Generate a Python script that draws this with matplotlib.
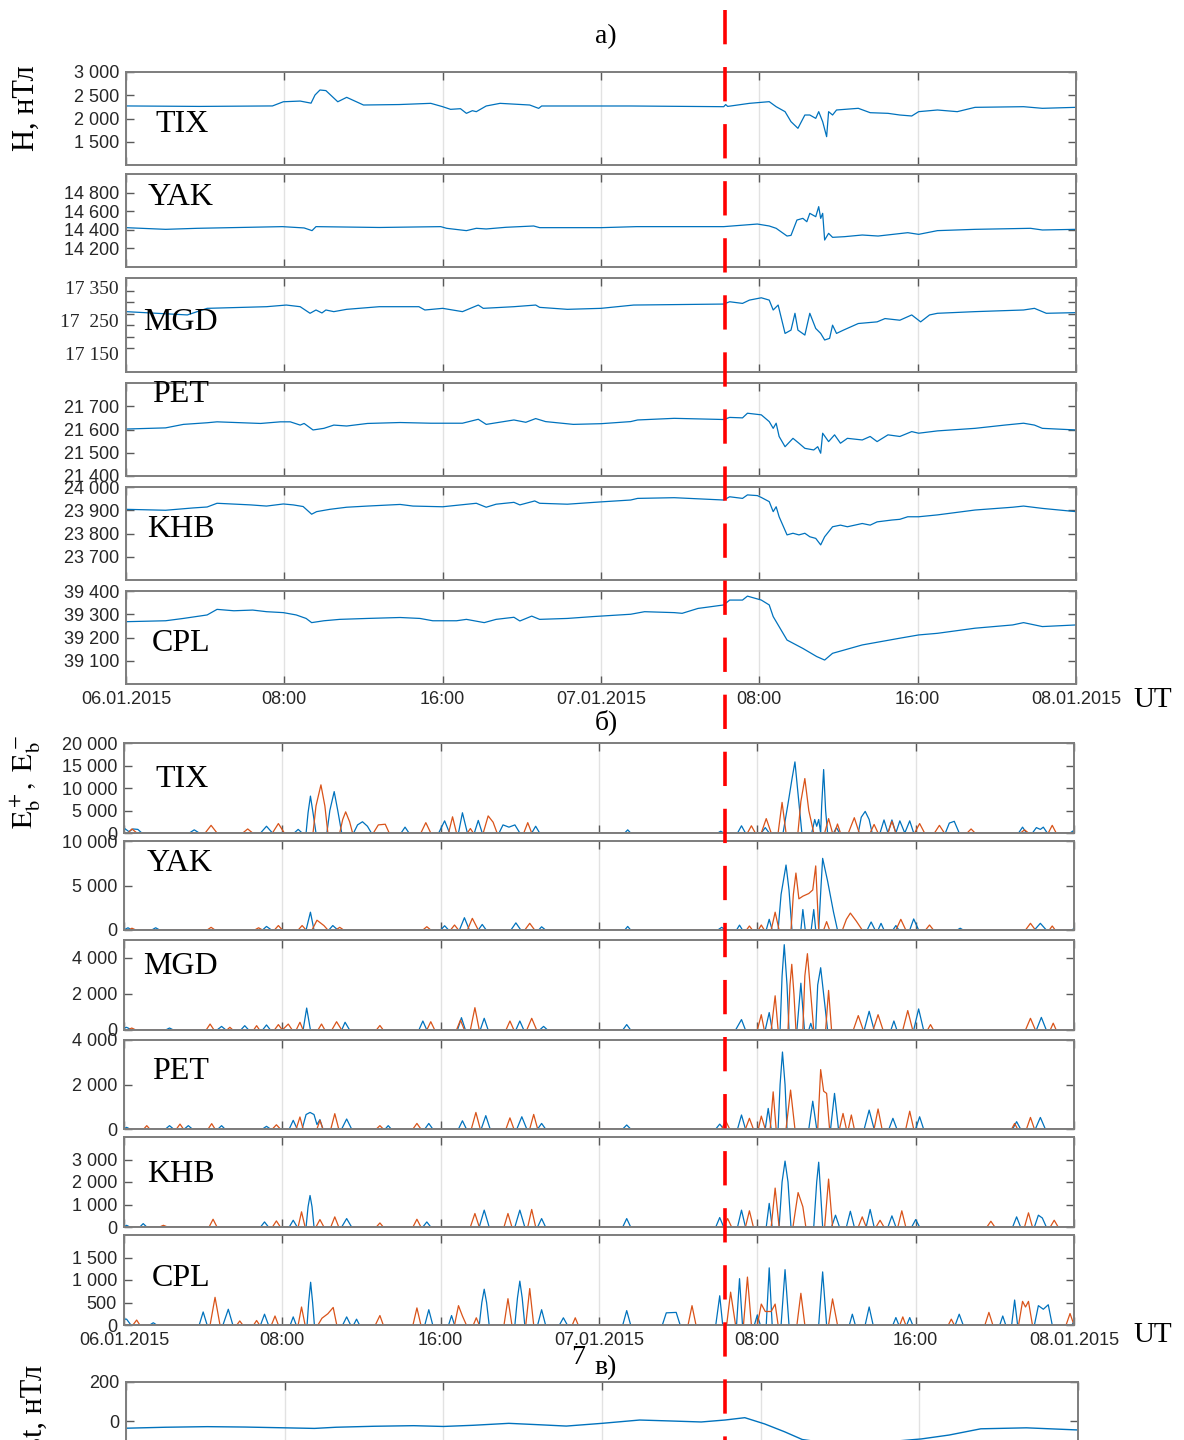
# Magnetic field H (a), E_b+/E_b- (b) and Dst (c) for 06-08.01.2015
import numpy as np
import matplotlib.pyplot as plt
from matplotlib.lines import Line2D
from matplotlib.transforms import blended_transform_factory

plt.rcParams['font.family'] = ['Liberation Sans', 'DejaVu Sans']
plt.rcParams['mathtext.fontset'] = 'stix'

# ---------------- data (time in hours from 06.01.2015 00:00 UT) ----------------
hour_ticks = [0, 8, 16, 24, 32, 40, 48]
hour_labels = ['06.01.2015', '08:00', '16:00', '07.01.2015', '08:00', '16:00', '08.01.2015']
stations = ['TIX', 'YAK', 'MGD', 'PET', 'KHB', 'CPL']

# a) H component, nT
TIX_h = [(0, 2270), (3.7, 2260), (7.4, 2270), (7.95, 2360), (8.8, 2375), (9.35, 2330), (9.55, 2505),
         (9.8, 2613), (10.1, 2600), (10.7, 2360), (11.15, 2455), (12.0, 2290), (13.8, 2300), (15.4, 2326),
         (16.0, 2254), (16.4, 2197), (16.9, 2211), (17.2, 2111), (17.5, 2168), (17.7, 2147), (18.2, 2269),
         (18.9, 2326), (20.4, 2290), (20.85, 2218), (21.0, 2269), (25.5, 2269), (30.2, 2254), (30.3, 2300),
         (30.4, 2260), (31.5, 2326), (32.5, 2362), (32.85, 2254), (33.3, 2147), (33.6, 1932), (33.95, 1789),
         (34.3, 2075), (34.55, 2075), (34.85, 2003), (35.0, 2147), (35.2, 1932), (35.4, 1609), (35.5, 2147),
         (35.7, 2075), (35.9, 2183), (37.0, 2219), (37.6, 2125), (38.5, 2111), (39.1, 2075), (39.7, 2054),
         (40.05, 2147), (41.0, 2183), (42.0, 2147), (42.9, 2240), (45.35, 2254), (46.3, 2219), (48, 2240)]
YAK_h = [(0, 14423), (2.0, 14405), (3.6, 14416), (7.9, 14434), (9.0, 14420), (9.4, 14391), (9.6, 14434),
         (12.8, 14425), (15.9, 14434), (16.2, 14416), (17.2, 14391), (17.7, 14416), (18.2, 14409),
         (19.2, 14427), (20.6, 14441), (20.9, 14423), (24.0, 14423), (25.8, 14434), (30.2, 14434),
         (31.9, 14462), (32.5, 14441), (32.85, 14416), (33.4, 14333), (33.6, 14340), (33.9, 14505),
         (34.2, 14523), (34.4, 14487), (34.55, 14577), (34.85, 14541), (35.0, 14649), (35.1, 14523),
         (35.2, 14577), (35.3, 14290), (35.5, 14362), (35.7, 14319), (36.3, 14326), (37.2, 14344),
         (38.0, 14333), (39.5, 14369), (40.05, 14351), (41.0, 14391), (42.9, 14405), (45.7, 14416),
         (46.3, 14398), (48, 14405)]
MGD_h = [(0, 17283), (3.1, 17273), (4.1, 17293), (7.1, 17298), (8.1, 17303), (8.8, 17298), (9.3, 17278),
         (9.6, 17288), (9.9, 17279), (10.1, 17288), (10.5, 17283), (11.15, 17290), (12.8, 17298),
         (14.8, 17298), (15.1, 17288), (16.0, 17293), (17.0, 17283), (17.8, 17303), (18.05, 17293),
         (19.6, 17298), (20.7, 17303), (20.9, 17296), (22.3, 17290), (24.0, 17293), (25.65, 17303),
         (30.2, 17306), (30.5, 17313), (31.15, 17308), (31.5, 17318), (32.1, 17325), (32.5, 17318),
         (32.7, 17288), (32.95, 17303), (33.3, 17217), (33.6, 17227), (33.8, 17278), (33.95, 17227),
         (34.3, 17212), (34.55, 17278), (34.85, 17232), (35.1, 17217), (35.3, 17197), (35.55, 17202),
         (35.7, 17242), (35.9, 17217), (36.25, 17227), (37.0, 17247), (37.95, 17252), (38.35, 17262),
         (39.1, 17257), (39.7, 17273), (40.15, 17252), (40.6, 17273), (41.0, 17278), (42.9, 17283),
         (45.35, 17288), (45.9, 17293), (46.5, 17278), (48, 17280)]
PET_h = [(0, 21602), (2.0, 21607), (2.9, 21622), (4.1, 21629), (4.6, 21633), (6.8, 21626), (7.8, 21633),
         (8.3, 21633), (8.8, 21619), (9.0, 21626), (9.45, 21598), (10.0, 21605), (10.5, 21619),
         (11.15, 21615), (12.2, 21626), (13.85, 21630), (15.4, 21627), (17.0, 21627), (17.8, 21644),
         (18.2, 21622), (19.6, 21641), (20.2, 21631), (20.7, 21647), (21.2, 21634), (22.6, 21622),
         (24.0, 21625), (25.5, 21634), (25.85, 21641), (27.7, 21648), (30.2, 21643), (30.5, 21652),
         (31.15, 21650), (31.4, 21670), (32.1, 21663), (32.5, 21634), (32.7, 21605), (32.85, 21627),
         (33.0, 21570), (33.3, 21526), (33.7, 21562), (34.0, 21541), (34.3, 21519), (34.75, 21512),
         (34.95, 21526), (35.1, 21498), (35.2, 21584), (35.5, 21548), (35.8, 21577), (36.1, 21541),
         (36.45, 21562), (37.2, 21555), (37.6, 21570), (37.95, 21548), (38.5, 21577), (39.1, 21570),
         (39.7, 21591), (40.05, 21584), (41.0, 21594), (42.9, 21605), (44.4, 21619), (45.35, 21627),
         (45.9, 21619), (46.3, 21605), (48, 21598)]
KHB_h = [(0, 23904), (2.0, 23900), (3.4, 23910), (4.1, 23914), (4.6, 23930), (6.3, 23923), (7.1, 23918),
         (7.95, 23927), (8.45, 23923), (8.95, 23916), (9.38, 23883), (9.63, 23894), (10.3, 23904),
         (11.15, 23913), (12.2, 23918), (13.85, 23925), (14.5, 23918), (16.0, 23915), (17.7, 23930),
         (18.2, 23913), (18.7, 23926), (19.6, 23934), (19.9, 23923), (20.65, 23940), (20.9, 23930),
         (22.3, 23926), (24.0, 23936), (25.5, 23944), (25.85, 23951), (27.7, 23954), (30.2, 23944),
         (30.5, 23958), (31.15, 23951), (31.4, 23966), (31.9, 23963), (32.1, 23955), (32.5, 23937),
         (32.7, 23894), (32.85, 23915), (33.0, 23872), (33.4, 23794), (33.7, 23801), (34.0, 23794),
         (34.3, 23801), (34.55, 23786), (34.85, 23779), (35.1, 23751), (35.3, 23786), (35.7, 23829),
         (36.1, 23836), (36.45, 23829), (37.2, 23843), (37.6, 23836), (37.95, 23850), (38.7, 23858),
         (39.1, 23861), (39.5, 23872), (40.05, 23872), (41.0, 23880), (42.9, 23901), (44.8, 23913),
         (45.35, 23918), (46.3, 23908), (48, 23894)]
CPL_h = [(0, 39268), (2.0, 39272), (2.9, 39282), (4.1, 39297), (4.6, 39321), (5.45, 39315), (6.4, 39318),
         (7.1, 39311), (7.95, 39307), (8.6, 39297), (9.1, 39282), (9.38, 39264), (10.0, 39272),
         (10.8, 39278), (12.2, 39282), (13.85, 39286), (14.85, 39282), (15.5, 39272), (16.7, 39272),
         (17.2, 39278), (18.1, 39264), (18.7, 39278), (19.6, 39287), (19.9, 39271), (20.5, 39292),
         (20.9, 39278), (22.3, 39282), (23.6, 39290), (25.5, 39300), (26.2, 39311), (27.7, 39307),
         (28.1, 39304), (28.9, 39325), (30.2, 39340), (30.5, 39361), (31.15, 39361), (31.4, 39378),
         (32.1, 39361), (32.5, 39340), (32.7, 39290), (33.4, 39189), (34.2, 39153), (34.9, 39118),
         (35.3, 39103), (35.7, 39132), (37.2, 39168), (39.1, 39197), (40.05, 39211), (41.0, 39218),
         (42.9, 39240), (44.8, 39254), (45.35, 39264), (46.3, 39247), (48, 39254)]

# b) E_b+ (blue) and E_b- (orange)
TIX_ep = [(0, 1100), (0.25, 300), (0.45, 900), (0.7, 800), (0.9, 0), (3.3, 0), (3.55, 700), (3.8, 0),
          (6.9, 0), (7.2, 1500), (7.5, 0), (8.6, 0), (8.8, 800), (9.0, 0), (9.2, 0), (9.3, 4500),
          (9.42, 8200), (9.55, 4500), (9.7, 0), (10.25, 0), (10.4, 5000), (10.62, 9200), (10.8, 5000),
          (11.0, 0), (11.6, 0), (11.8, 1800), (12.05, 2500), (12.3, 1500), (12.5, 0), (14.0, 0),
          (14.2, 1300), (14.4, 0), (15.9, 0), (16.2, 2700), (16.45, 0), (16.9, 0), (17.1, 4500),
          (17.35, 0), (17.7, 0), (17.9, 2800), (18.1, 0), (18.95, 0), (19.15, 1800), (19.45, 1300),
          (19.75, 1800), (20.0, 0), (20.6, 0), (20.8, 1500), (21.0, 0), (25.3, 0), (25.45, 700),
          (25.6, 0), (30.0, 0), (30.15, 400), (30.3, 0), (31.0, 0), (31.2, 1600), (31.4, 0), (32.2, 0),
          (32.4, 1200), (32.6, 0), (33.3, 0), (33.55, 6500), (33.75, 12000), (33.9, 15800), (34.05, 9000),
          (34.25, 0), (34.75, 0), (34.9, 3000), (35.0, 1500), (35.1, 3000), (35.2, 0), (35.25, 6000),
          (35.35, 14100), (35.45, 5000), (35.55, 0), (35.85, 0), (36.0, 1200), (36.15, 0), (37.1, 0),
          (37.25, 3500), (37.45, 4800), (37.65, 3000), (37.8, 0), (38.2, 0), (38.4, 2900), (38.6, 0),
          (38.8, 2900), (39.0, 0), (39.2, 2700), (39.45, 0), (39.7, 2700), (39.9, 0), (41.5, 0),
          (41.7, 2200), (41.95, 2600), (42.2, 0), (45.2, 0), (45.4, 1300), (45.6, 0), (45.9, 0),
          (46.1, 1200), (46.3, 800), (46.45, 1300), (46.65, 0), (47.8, 0), (48, 600)]
TIX_em = [(0, 0), (0.2, 0), (0.4, 900), (0.65, 0), (4.1, 0), (4.4, 1700), (4.7, 0), (6.0, 0), (6.25, 900),
          (6.5, 0), (7.5, 0), (7.8, 2100), (8.1, 0), (9.55, 0), (9.7, 6000), (9.95, 10700), (10.15, 6000),
          (10.3, 0), (10.9, 0), (11.05, 3000), (11.2, 4700), (11.4, 2500), (11.55, 0), (12.6, 0),
          (12.85, 1800), (13.2, 1950), (13.4, 0), (15.0, 0), (15.25, 2300), (15.5, 0), (16.4, 0),
          (16.6, 3600), (16.8, 0), (17.35, 0), (17.5, 1000), (17.65, 0), (18.15, 0), (18.4, 3800),
          (18.65, 2400), (18.85, 0), (20.2, 0), (20.4, 2300), (20.6, 0), (31.5, 0), (31.7, 1600),
          (31.9, 0), (32.2, 0), (32.45, 3200), (32.7, 0), (33.05, 0), (33.25, 6800), (33.45, 0),
          (34.05, 0), (34.2, 7000), (34.4, 12100), (34.6, 5000), (34.7, 3000), (34.85, 0), (35.4, 0),
          (35.6, 3200), (35.8, 0), (35.9, 0), (36.05, 2000), (36.2, 0), (36.6, 0), (36.9, 3400),
          (37.15, 0), (37.7, 0), (37.9, 1900), (38.1, 0), (38.6, 0), (38.8, 2600), (39.0, 0), (39.95, 0),
          (40.2, 2100), (40.45, 0), (40.95, 0), (41.2, 1700), (41.45, 0), (42.6, 0), (42.8, 900),
          (43.0, 0), (45.3, 0), (45.5, 700), (45.7, 0), (46.7, 0), (46.9, 1700), (47.1, 0), (48, 0)]
YAK_ep = [(0, 0), (0.2, 250), (0.4, 0), (1.4, 0), (1.6, 250), (1.8, 0), (7.0, 0), (7.2, 400), (7.45, 0),
          (9.2, 0), (9.42, 2000), (9.6, 0), (10.35, 0), (10.55, 500), (10.8, 0), (16.0, 0), (16.2, 480),
          (16.4, 0), (16.95, 0), (17.2, 1380), (17.45, 0), (17.9, 0), (18.1, 620), (18.3, 0), (19.55, 0),
          (19.8, 800), (20.05, 0), (20.95, 0), (21.1, 360), (21.3, 0), (25.3, 0), (25.45, 400), (25.6, 0),
          (30.0, 0), (30.2, 300), (30.4, 0), (30.95, 0), (31.1, 550), (31.25, 0), (32.45, 0), (32.6, 1200),
          (32.75, 0), (33.05, 0), (33.2, 4000), (33.45, 7300), (33.6, 4500), (33.75, 0), (34.2, 0),
          (34.3, 2300), (34.42, 0), (34.72, 0), (34.85, 2300), (34.95, 0), (35.1, 0), (35.22, 5000),
          (35.3, 8050), (35.55, 5500), (35.85, 2000), (36.05, 0), (37.55, 0), (37.75, 900), (37.95, 0),
          (38.1, 0), (38.25, 750), (38.4, 0), (38.85, 0), (39.0, 500), (39.15, 0), (39.7, 0), (39.9, 1240),
          (40.15, 0), (42.1, 0), (42.25, 200), (42.4, 0), (46.0, 0), (46.3, 750), (46.6, 0), (47.9, 0),
          (48, 200)]
YAK_em = [(0, 0), (0.25, 0), (0.4, 200), (0.6, 0), (4.2, 0), (4.4, 300), (4.6, 0), (6.6, 0), (6.8, 250),
          (7.0, 0), (7.6, 0), (7.8, 500), (8.0, 0), (8.8, 0), (9.0, 500), (9.2, 0), (9.5, 0), (9.75, 1100),
          (10.1, 500), (10.3, 0), (10.7, 0), (10.9, 300), (11.1, 0), (15.1, 0), (15.3, 370), (15.5, 0),
          (16.5, 0), (16.7, 560), (16.9, 0), (17.35, 0), (17.6, 1310), (17.9, 0), (20.25, 0), (20.5, 750),
          (20.75, 0), (31.45, 0), (31.6, 450), (31.75, 0), (32.05, 0), (32.2, 560), (32.35, 0), (32.7, 0),
          (32.9, 2000), (33.1, 0), (33.7, 0), (33.82, 4000), (33.95, 6400), (34.1, 3500), (34.3, 3800),
          (34.6, 4100), (34.8, 4500), (34.95, 7200), (35.1, 0), (35.35, 0), (35.5, 940), (35.65, 0),
          (36.3, 0), (36.5, 1200), (36.7, 1900), (37.0, 1000), (37.3, 0), (39.0, 0), (39.25, 1200),
          (39.5, 0), (40.5, 0), (40.7, 560), (40.9, 0), (45.55, 0), (45.8, 750), (46.05, 0), (46.75, 0),
          (46.9, 450), (47.05, 0), (48, 0)]
MGD_ep = [(0, 100), (0.13, 150), (0.4, 0), (2.1, 0), (2.3, 110), (2.5, 0), (4.7, 0), (4.93, 200),
          (5.15, 0), (5.9, 0), (6.1, 240), (6.3, 0), (7.0, 0), (7.2, 280), (7.4, 0), (9.05, 0),
          (9.23, 1220), (9.42, 0), (11.0, 0), (11.17, 430), (11.4, 0), (14.9, 0), (15.1, 500), (15.3, 0),
          (16.85, 0), (17.05, 685), (17.25, 0), (18.0, 0), (18.2, 650), (18.4, 0), (19.8, 0), (20.0, 500),
          (20.2, 0), (21.0, 0), (21.2, 200), (21.4, 0), (25.2, 0), (25.4, 300), (25.6, 0), (30.9, 0),
          (31.2, 580), (31.4, 0), (32.4, 0), (32.6, 970), (32.75, 0), (33.15, 0), (33.25, 3000),
          (33.36, 4740), (33.5, 2500), (33.6, 0), (34.0, 0), (34.2, 2600), (34.38, 0), (34.6, 0),
          (34.7, 370), (34.8, 0), (34.95, 0), (35.05, 2500), (35.2, 3460), (35.4, 1500), (35.55, 0),
          (37.4, 0), (37.65, 1040), (37.9, 0), (38.75, 0), (38.9, 500), (39.05, 0), (39.9, 0),
          (40.15, 1170), (40.4, 0), (46.1, 0), (46.35, 700), (46.6, 0), (48, 0)]
MGD_em = [(0, 0), (0.2, 0), (0.39, 110), (0.6, 0), (4.15, 0), (4.35, 330), (4.55, 0), (5.2, 0),
          (5.35, 150), (5.5, 0), (6.55, 0), (6.7, 240), (6.85, 0), (7.6, 0), (7.8, 300), (8.0, 0),
          (8.3, 330), (8.5, 0), (8.7, 0), (8.89, 430), (9.05, 0), (9.8, 0), (9.98, 330), (10.15, 0),
          (10.5, 0), (10.74, 460), (11.0, 0), (12.75, 0), (12.93, 250), (13.1, 0), (15.3, 0), (15.5, 460),
          (15.7, 0), (16.8, 0), (17.0, 555), (17.2, 0), (17.5, 0), (17.73, 1240), (17.95, 0), (19.3, 0),
          (19.5, 500), (19.7, 0), (20.35, 0), (20.6, 650), (20.85, 0), (32.0, 0), (32.2, 850), (32.35, 0),
          (32.7, 0), (32.9, 1900), (33.05, 0), (33.55, 0), (33.65, 2500), (33.74, 3650), (33.85, 2000),
          (33.95, 0), (34.3, 0), (34.4, 3000), (34.53, 4240), (34.7, 2000), (34.85, 0), (35.45, 0),
          (35.6, 2200), (35.75, 0), (36.85, 0), (37.1, 800), (37.35, 0), (37.85, 0), (38.1, 850),
          (38.35, 0), (39.35, 0), (39.6, 1080), (39.85, 0), (40.6, 0), (40.75, 300), (40.9, 0),
          (45.55, 0), (45.8, 650), (46.05, 0), (46.8, 0), (46.95, 380), (47.1, 0), (48, 0)]
PET_ep = [(0, 0), (0.13, 75), (0.3, 0), (2.1, 0), (2.3, 150), (2.5, 0), (3.05, 0), (3.25, 150), (3.45, 0),
          (4.75, 0), (4.93, 150), (5.1, 0), (7.0, 0), (7.2, 120), (7.4, 0), (8.35, 0), (8.55, 390),
          (8.75, 0), (9.0, 0), (9.2, 650), (9.4, 745), (9.6, 650), (9.75, 200), (9.9, 420), (10.05, 0),
          (11.0, 0), (11.25, 450), (11.5, 0), (13.2, 0), (13.35, 150), (13.5, 0), (15.2, 0), (15.4, 250),
          (15.6, 0), (16.9, 0), (17.1, 370), (17.3, 0), (18.05, 0), (18.28, 600), (18.5, 0), (19.85, 0),
          (20.1, 550), (20.35, 0), (20.9, 0), (21.1, 250), (21.3, 0), (25.2, 0), (25.4, 180), (25.6, 0),
          (29.9, 0), (30.1, 220), (30.3, 0), (31.0, 0), (31.2, 630), (31.4, 0), (32.4, 0), (32.55, 925),
          (32.7, 0), (33.05, 0), (33.15, 2000), (33.27, 3460), (33.4, 2000), (33.5, 0), (34.6, 0),
          (34.8, 1250), (35.0, 0), (35.7, 0), (35.9, 1600), (36.1, 0), (37.4, 0), (37.65, 850), (37.9, 0),
          (38.65, 0), (38.85, 480), (39.05, 0), (40.0, 0), (40.2, 550), (40.4, 0), (44.9, 0), (45.1, 330),
          (45.3, 0), (46.05, 0), (46.3, 520), (46.55, 0), (48, 0)]
PET_em = [(0, 0), (1.0, 0), (1.15, 150), (1.3, 0), (2.65, 0), (2.83, 220), (3.0, 0), (4.25, 0),
          (4.43, 240), (4.6, 0), (7.5, 0), (7.7, 190), (7.9, 0), (8.7, 0), (8.89, 540), (9.05, 0),
          (9.75, 0), (9.9, 390), (10.05, 0), (10.45, 0), (10.65, 690), (10.85, 0), (12.75, 0),
          (12.93, 150), (13.1, 0), (14.6, 0), (14.8, 250), (15.0, 0), (17.55, 0), (17.78, 745), (18.0, 0),
          (19.3, 0), (19.5, 500), (19.7, 0), (20.5, 0), (20.7, 655), (20.9, 0), (30.2, 0), (30.4, 370),
          (30.6, 0), (31.4, 0), (31.6, 480), (31.8, 0), (32.05, 0), (32.2, 580), (32.4, 0), (32.65, 0),
          (32.8, 1670), (32.95, 0), (33.45, 0), (33.68, 1750), (33.9, 0), (35.05, 0), (35.2, 2670),
          (35.35, 1700), (35.5, 1600), (35.65, 0), (36.15, 0), (36.33, 700), (36.5, 0), (36.6, 0),
          (36.75, 630), (36.9, 0), (37.9, 0), (38.1, 900), (38.3, 0), (39.5, 0), (39.7, 800), (39.9, 0),
          (44.85, 0), (45.0, 250), (45.15, 0), (45.6, 0), (45.8, 520), (46.0, 0), (48, 0)]
KHB_ep = [(0, 0), (0.13, 75), (0.3, 0), (0.8, 0), (0.97, 150), (1.15, 0), (6.9, 0), (7.1, 225), (7.3, 0),
          (8.35, 0), (8.55, 300), (8.75, 0), (9.2, 0), (9.3, 900), (9.4, 1400), (9.5, 900), (9.6, 0),
          (11.0, 0), (11.25, 375), (11.5, 0), (15.1, 0), (15.3, 225), (15.5, 0), (17.95, 0), (18.2, 750),
          (18.45, 0), (19.75, 0), (20.0, 750), (20.25, 0), (20.9, 0), (21.1, 375), (21.3, 0), (25.2, 0),
          (25.4, 375), (25.6, 0), (29.9, 0), (30.1, 420), (30.3, 0), (31.0, 0), (31.2, 750), (31.4, 0),
          (32.45, 0), (32.6, 1050), (32.75, 0), (33.1, 0), (33.25, 2000), (33.4, 2930), (33.55, 2000),
          (33.7, 0), (34.85, 0), (35.0, 2000), (35.1, 2880), (35.2, 1500), (35.3, 0), (35.75, 0),
          (35.95, 525), (36.15, 0), (36.5, 0), (36.7, 700), (36.9, 0), (37.5, 0), (37.7, 780), (37.9, 0),
          (38.6, 0), (38.8, 495), (39.0, 0), (39.8, 0), (40.0, 330), (40.2, 0), (44.9, 0), (45.1, 450),
          (45.3, 0), (46.0, 0), (46.2, 525), (46.4, 400), (46.6, 0), (48, 0)]
KHB_em = [(0, 0), (1.8, 0), (1.99, 75), (2.2, 0), (4.3, 0), (4.5, 345), (4.7, 0), (7.5, 0), (7.7, 270),
          (7.9, 0), (8.8, 0), (8.97, 675), (9.15, 0), (9.7, 0), (9.9, 330), (10.1, 0), (10.45, 0),
          (10.65, 450), (10.85, 0), (12.75, 0), (12.93, 180), (13.1, 0), (14.6, 0), (14.8, 345), (15.0, 0),
          (17.5, 0), (17.73, 600), (17.95, 0), (19.2, 0), (19.4, 600), (19.6, 0), (20.4, 0), (20.6, 780),
          (20.8, 0), (30.3, 0), (30.5, 375), (30.7, 0), (31.4, 0), (31.6, 720), (31.8, 0), (32.7, 0),
          (32.9, 1730), (33.1, 0), (33.8, 0), (34.06, 1530), (34.3, 900), (34.45, 0), (35.4, 0),
          (35.6, 2130), (35.8, 0), (37.1, 0), (37.3, 450), (37.5, 0), (38.0, 0), (38.2, 300), (38.4, 0),
          (39.1, 0), (39.3, 720), (39.5, 0), (43.6, 0), (43.8, 255), (44.0, 0), (45.5, 0), (45.7, 630),
          (45.9, 0), (46.8, 0), (47.0, 300), (47.2, 0), (48, 0)]
CPL_ep = [(0, 130), (0.13, 130), (0.35, 0), (1.3, 0), (1.48, 50), (1.65, 0), (3.8, 0), (4.0, 290),
          (4.2, 0), (5.0, 0), (5.27, 350), (5.5, 0), (6.9, 0), (7.1, 240), (7.3, 0), (8.4, 0), (8.55, 180),
          (8.7, 0), (9.25, 0), (9.33, 500), (9.43, 950), (9.53, 500), (9.62, 0), (11.05, 0), (11.25, 180),
          (11.45, 0), (11.6, 0), (11.75, 130), (11.9, 0), (15.2, 0), (15.4, 340), (15.6, 0), (16.4, 0),
          (16.55, 210), (16.7, 0), (17.95, 0), (18.08, 500), (18.2, 795), (18.32, 500), (18.45, 0),
          (19.75, 0), (19.88, 600), (20.0, 975), (20.12, 600), (20.25, 0), (20.9, 0), (21.1, 340),
          (21.3, 0), (22.0, 0), (22.2, 160), (22.4, 0), (25.2, 0), (25.4, 320), (25.6, 0), (27.2, 0),
          (27.4, 270), (27.9, 280), (28.1, 0), (29.9, 0), (30.1, 650), (30.25, 0), (30.95, 0),
          (31.1, 1030), (31.25, 0), (31.85, 0), (32.0, 225), (32.15, 0), (32.45, 0), (32.6, 1270),
          (32.75, 0), (33.2, 0), (33.4, 1230), (33.6, 0), (35.1, 0), (35.3, 1180), (35.5, 0), (36.65, 0),
          (36.8, 240), (36.95, 0), (37.45, 0), (37.65, 400), (37.85, 0), (38.85, 0), (39.0, 165),
          (39.15, 0), (39.55, 0), (39.7, 165), (39.85, 0), (42.0, 0), (42.2, 240), (42.4, 0), (44.25, 0),
          (44.4, 200), (44.55, 0), (44.85, 0), (45.0, 555), (45.15, 0), (46.0, 0), (46.2, 430),
          (46.45, 350), (46.7, 450), (46.9, 0), (47.9, 0), (48, 90)]
CPL_em = [(0, 0), (0.45, 0), (0.64, 110), (0.8, 0), (4.35, 0), (4.6, 615), (4.85, 0), (5.7, 0),
          (5.85, 90), (6.0, 0), (6.55, 0), (6.7, 100), (6.85, 0), (7.45, 0), (7.63, 200), (7.8, 0),
          (8.8, 0), (8.97, 400), (9.15, 0), (9.8, 0), (10.0, 150), (10.3, 250), (10.57, 390), (10.75, 0),
          (12.7, 0), (12.93, 210), (13.1, 0), (14.6, 0), (14.8, 380), (15.0, 0), (16.7, 0), (16.9, 430),
          (17.1, 200), (17.3, 0), (17.65, 0), (17.8, 160), (17.95, 0), (19.2, 0), (19.4, 585), (19.6, 0),
          (20.3, 0), (20.5, 810), (20.7, 0), (22.65, 0), (22.8, 160), (22.95, 0), (28.5, 0), (28.7, 430),
          (28.9, 0), (30.45, 0), (30.65, 730), (30.9, 0), (31.3, 0), (31.5, 1065), (31.7, 0), (32.0, 0),
          (32.2, 465), (32.4, 300), (32.7, 300), (32.9, 465), (33.05, 0), (34.0, 0), (34.2, 705),
          (34.4, 0), (35.6, 0), (35.8, 580), (36.05, 0), (39.2, 0), (39.35, 180), (39.5, 0), (41.65, 0),
          (41.8, 130), (41.95, 0), (43.5, 0), (43.7, 280), (43.9, 0), (45.2, 0), (45.4, 525), (45.55, 400),
          (45.7, 525), (45.9, 0), (47.6, 0), (47.8, 255), (48, 0)]

# c) Dst, nT
DST = [(0, -37), (2, -32), (4.1, -29), (6, -31), (8.0, -35), (9.5, -38), (10.6, -32), (12.5, -27),
       (14.5, -24), (16.0, -28), (17.5, -22), (19.3, -12), (21, -20), (22.2, -26), (24, -12), (25.9, 5),
       (27.5, 0), (29.0, -5), (30.2, 5), (31.2, 17), (32.2, -15), (33.2, -55), (34.1, -95),
       (35.0, -108), (38.0, -110), (40.1, -92), (41.5, -72), (43.1, -40), (45.4, -35), (48, -46)]

H_series = [TIX_h, YAK_h, MGD_h, PET_h, KHB_h, CPL_h]
E_plus = [TIX_ep, YAK_ep, MGD_ep, PET_ep, KHB_ep, CPL_ep]
E_minus = [TIX_em, YAK_em, MGD_em, PET_em, KHB_em, CPL_em]

H_ylims = [(1000, 3000), (14000, 15000), (17100, 17385), (21400, 21800), (23600, 24000), (39000, 39400)]
H_yticks = [[1500, 2000, 2500, 3000], [14200, 14400, 14600, 14800],
            [17172, 17207, 17242, 17277, 17312, 17347],
            [21400, 21500, 21600, 21700], [23700, 23800, 23900, 24000], [39100, 39200, 39300, 39400]]
MGD_labels = [(17350, '17 350'), (17250, '17  250'), (17150, '17 150')]
E_ylims = [(0, 20000), (0, 10000), (0, 5000), (0, 4000), (0, 4000), (0, 2000)]
E_yticks = [[0, 5000, 10000, 15000, 20000], [0, 5000, 10000], [0, 2000, 4000], [0, 2000, 4000],
            [0, 1000, 2000, 3000], [0, 500, 1000, 1500]]
DST_ylim = (-400, 200)
DST_yticks = [0, 200]

# ---------------- layout (pixels of the 1184x1440 image) ----------------
W, H = 1184, 1440
fig = plt.figure(figsize=(W / 100, H / 100), dpi=100)

a_rows = [(72, 165), (174, 267), (278, 372), (383, 476), (487, 580), (591, 684)]
b_rows = [(743, 833), (841, 930), (940, 1030), (1040, 1129), (1137, 1227), (1235, 1325)]
a_lab = [(155, 132), (148, 205), (143, 330), (152, 402), (147, 537), (152, 651)]
b_lab = [(155, 787), (147, 871), (143, 974), (152, 1079), (147, 1182), (152, 1286)]

BLUE = '#0072BD'
ORANGE = '#D95319'
SERIF = 'Liberation Serif'


def box(x0, y0, x1, y1):
    return [x0 / W, 1 - y1 / H, (x1 - x0) / W, (y1 - y0) / H]


def fmt(v):
    return f'{v:,.0f}'.replace(',', ' ')


def style(ax, ylim, yticks, show_x=False):
    ax.set_xlim(0, 48)
    ax.set_ylim(*ylim)
    ax.set_xticks(hour_ticks)
    ax.set_xticklabels(hour_labels if show_x else [])
    ax.set_yticks(yticks)
    ax.set_yticklabels([fmt(v) for v in yticks])
    ax.tick_params(direction='in', length=6, width=1.0, color='#5a5a5a', labelcolor='#262626',
                   labelsize=13, top=True, right=True, pad=5)
    ax.grid(axis='x', color='#e2e2e2', lw=1.0)
    ax.set_axisbelow(True)
    for s in ax.spines.values():
        s.set_color('#7d7d7d')
        s.set_linewidth(1.4)


def ftext(x, y, s, **kw):
    fig.text(x / W, 1 - y / H, s, **kw)


# a) panels
for i, name in enumerate(stations):
    y0, y1 = a_rows[i]
    ax = fig.add_axes(box(126, y0, 1076, y1))
    t, v = np.array(H_series[i]).T
    ax.plot(t, v, color=BLUE, lw=0.9)
    style(ax, H_ylims[i], H_yticks[i], show_x=(i == 5))
    if name == 'MGD':
        ax.set_yticklabels([])
        tr = blended_transform_factory(ax.transAxes, ax.transData)
        for val, lab in MGD_labels:
            ax.text(-0.008, val, lab, transform=tr, ha='right', va='center',
                    fontsize=14, family=SERIF, color='#262626')
    ftext(*a_lab[i], name, fontsize=23, family=SERIF, va='baseline', ha='left')

# b) panels
for i, name in enumerate(stations):
    y0, y1 = b_rows[i]
    ax = fig.add_axes(box(124, y0, 1074, y1))
    t, v = np.array(E_plus[i]).T
    ax.plot(t, v, color=BLUE, lw=0.9)
    t, v = np.array(E_minus[i]).T
    ax.plot(t, v, color=ORANGE, lw=0.9)
    style(ax, E_ylims[i], E_yticks[i], show_x=(i == 5))
    ftext(*b_lab[i], name, fontsize=23, family=SERIF, va='baseline', ha='left')

# c) panel (cut by the bottom edge of the image)
ax = fig.add_axes(box(126, 1382, 1078, 1499))
t, v = np.array(DST).T
ax.plot(t, v, color=BLUE, lw=1.0)
style(ax, DST_ylim, DST_yticks)

# titles and axis labels
ftext(606, 37, 'а)', fontsize=20, family=SERIF, ha='center', va='center')
ftext(606, 722, 'б)', fontsize=20, family=SERIF, ha='center', va='center')
ftext(578, 1357, '7', fontsize=20, family=SERIF, ha='center', va='center')
ftext(606, 1368, 'в)', fontsize=20, family=SERIF, ha='center', va='center')
ftext(1153, 700, 'UT', fontsize=21, family=SERIF, ha='center', va='center')
ftext(1153, 1335, 'UT', fontsize=21, family=SERIF, ha='center', va='center')
ftext(26, 108, 'H, нТл', fontsize=22, family=SERIF, rotation=90, ha='center', va='center')
ftext(26, 782, r'$\mathrm{E_b^+,\ E_b^-}$', fontsize=21, rotation=90, ha='center', va='center')
ftext(34, 1365, 'Dst, нТл', fontsize=22, family=SERIF, rotation=90, ha='center', va='top')

# storm onset marker through all panels
fig.add_artist(Line2D([725 / W, 725 / W], [1 - 10 / H, 0], transform=fig.transFigure,
                      color='red', lw=2.6, dashes=(9.5, 6.3), zorder=10))

fig.savefig('out.png', dpi=100)
